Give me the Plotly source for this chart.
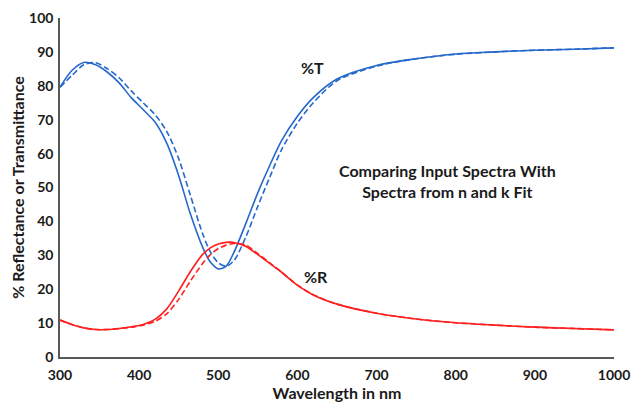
import plotly.graph_objects as go

wavelength = [300, 315, 330, 345, 360, 375, 390, 405, 420, 435, 450, 465, 480, 490, 500,
              510, 520, 535, 550, 565, 580, 600, 620, 650, 700, 750, 800, 850, 900, 950, 1000]

T_input = [79.6, 84.5, 86.9, 86.2, 84.0, 80.8, 76.5, 73.0, 69.3, 63.0, 53.5, 42.0, 32.5, 28.0, 26.0,
           26.8, 31.0, 39.5, 48.5, 56.5, 63.8, 71.0, 76.5, 82.0, 86.0, 88.0, 89.4, 90.0, 90.5, 90.8, 91.2]

T_fit = [79.6, 83.0, 86.2, 86.8, 85.0, 82.3, 78.5, 75.0, 71.5, 66.5, 58.5, 47.5, 36.5, 31.0, 27.8,
         26.8, 28.5, 35.5, 44.5, 53.0, 61.2, 69.0, 75.0, 81.5, 85.8, 88.0, 89.3, 90.0, 90.5, 90.8, 91.2]

R_input = [10.9, 9.6, 8.6, 8.1, 8.1, 8.4, 8.9, 9.6, 11.1, 14.2, 19.5, 25.3, 30.2, 32.2, 33.3,
           33.8, 33.8, 32.6, 30.2, 27.6, 25.0, 21.2, 18.3, 15.6, 12.9, 11.2, 10.1, 9.4, 8.8, 8.4, 8.0]

R_fit = [10.9, 9.6, 8.6, 8.1, 8.1, 8.4, 8.8, 9.4, 10.5, 12.8, 17.0, 22.5, 27.5, 30.2, 32.0,
         33.0, 33.5, 33.0, 30.5, 27.8, 25.0, 21.2, 18.4, 15.6, 12.9, 11.2, 10.1, 9.4, 8.8, 8.4, 8.0]

x_ticks = [300, 400, 500, 600, 700, 800, 900, 1000]
y_ticks = [0, 10, 20, 30, 40, 50, 60, 70, 80, 90, 100]

BLUE = "#2468cc"
RED = "#ff1f1f"
FONT = "Lato"
TXT = "#1a1a1a"

fig = go.Figure()
fig.add_trace(go.Scatter(x=wavelength, y=T_fit, mode="lines", line=dict(color=BLUE, width=1.6, dash="6px,3px", shape="spline", smoothing=0.8), showlegend=False))
fig.add_trace(go.Scatter(x=wavelength, y=T_input, mode="lines", line=dict(color=BLUE, width=1.6, shape="spline", smoothing=0.8), showlegend=False))
fig.add_trace(go.Scatter(x=wavelength, y=R_fit, mode="lines", line=dict(color=RED, width=1.6, dash="6px,3px", shape="spline", smoothing=0.8), showlegend=False))
fig.add_trace(go.Scatter(x=wavelength, y=R_input, mode="lines", line=dict(color=RED, width=1.6, shape="spline", smoothing=0.8), showlegend=False))

fig.add_annotation(x=619, y=85.5, text="%T", showarrow=False, font=dict(family=FONT, size=16, color=TXT, weight="bold"))
fig.add_annotation(x=623, y=23.7, text="%R", showarrow=False, font=dict(family=FONT, size=16, color=TXT, weight="bold"))
fig.add_annotation(x=790, y=51.8, text="Comparing Input Spectra With<br>Spectra from n and k Fit", showarrow=False,
                   align="center", font=dict(family=FONT, size=16, color=TXT, weight="bold"))

fig.update_layout(
    width=640, height=402,
    margin=dict(l=60, r=26, t=18, b=45, autoexpand=False),
    plot_bgcolor="white", paper_bgcolor="white",
    font=dict(family=FONT, color=TXT),
    xaxis=dict(range=[300, 1000], tickvals=x_ticks, showgrid=False, zeroline=False, automargin=False,
               showline=True, linecolor="#595959", linewidth=1.5, ticks="", ticklabelstandoff=4,
               tickfont=dict(family=FONT, size=14, weight="bold", color=TXT),
               title=dict(text="Wavelength in nm", font=dict(family=FONT, size=16, weight="bold", color=TXT), standoff=6)),
    yaxis=dict(range=[0, 100], tickvals=y_ticks, showgrid=False, zeroline=False, automargin=False,
               showline=True, linecolor="#595959", linewidth=1.5, ticks="", ticklabelstandoff=2,
               tickfont=dict(family=FONT, size=14, weight="bold", color=TXT),
               title=dict(text="% Reflectance or Transmittance", font=dict(family=FONT, size=16, weight="bold", color=TXT), standoff=0)),
)

fig.write_html("out.html")
